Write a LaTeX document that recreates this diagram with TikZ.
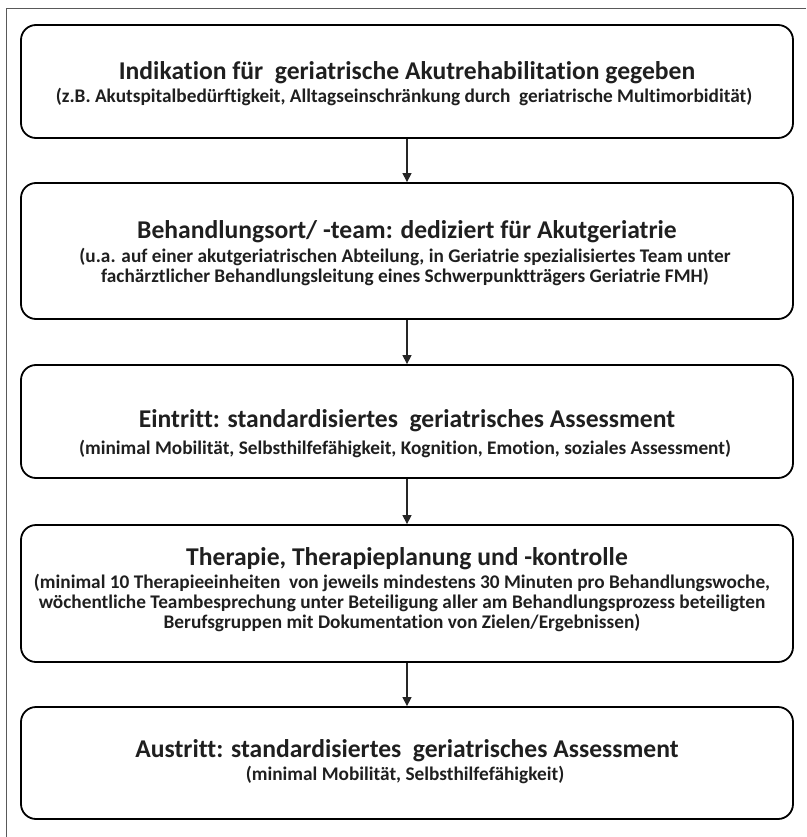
\documentclass[tikz,border=0pt]{standalone}
\usepackage{fontspec}
\setmainfont{Carlito}[Ligatures={NoCommon,NoContextual}]
\usetikzlibrary{arrows.meta}
\newcommand{\sublines}[1]{\begin{tabular}[t]{@{}c@{}}#1\end{tabular}}
\begin{document}
\begin{tikzpicture}[x=1pt,y=-1pt,
  box/.style={draw=black, line width=1.8pt, rounded corners=15pt, minimum width=772pt, inner sep=0pt},
  ttl/.style={anchor=base, font=\fontsize{25.6}{30}\selectfont\bfseries, text=black!88, inner sep=0pt},
  sub/.style={anchor=base, font=\fontsize{19.3}{20}\selectfont\bfseries, text=black!88, inner sep=0pt},
  conn/.style={draw=black!85, line width=1.2pt, -{Triangle[length=9pt,width=9pt]}}]
\useasboundingbox (0,0) rectangle (806,837);
\draw[black!65, line width=1pt] (806,9) -- (6,9) -- (6,837);

\node[box, minimum height=113pt] (b1) at (407,81.5) {};
\node[box, minimum height=136pt] (b2) at (407,251) {};
\node[box, minimum height=113pt] (b3) at (407,421.5) {};
\node[box, minimum height=137pt] (b4) at (407,593.5) {};
\node[box, minimum height=112pt] (b5) at (407,763) {};

\node[ttl] (t1) at (407,80) {Indikation für\ \ geriatrische Akutrehabilitation gegeben};
\node[sub] (s1) at (404,103) {\sublines{(z.B. Akutspitalbedürftigkeit, Alltagseinschränkung durch\ \ geriatrische Multimorbidität)}};

\node[ttl] (t2) at (407,238) {Behandlungsort/ -team: dediziert für Akutgeriatrie};
\node[sub] (s2) at (405,262) {\sublines{(u.a. auf einer akutgeriatrischen Abteilung, in Geriatrie spezialisiertes Team unter\\fachärztlicher Behandlungsleitung eines Schwerpunktträgers Geriatrie FMH)}};

\node[ttl] (t3) at (407,427) {Eintritt: standardisiertes\ \ geriatrisches Assessment};
\node[sub] (s3) at (405,454) {\sublines{(minimal Mobilität, Selbsthilfefähigkeit, Kognition, Emotion, soziales Assessment)}};

\node[ttl] (t4) at (407,565) {Therapie, Therapieplanung und -kontrolle};
\node[sub] (s4) at (402,588) {\sublines{(minimal 10 Therapieeinheiten\ \ von jeweils mindestens 30 Minuten pro Behandlungswoche,\\wöchentliche Teambesprechung unter Beteiligung aller am Behandlungsprozess beteiligten\\Berufsgruppen mit Dokumentation von Zielen/Ergebnissen)}};

\node[ttl] (t5) at (407,757) {Austritt: standardisiertes\ \ geriatrisches Assessment};
\node[sub] (s5) at (405,780) {\sublines{(minimal Mobilität, Selbsthilfefähigkeit)}};

\draw[conn] (b1.south) -- (b2.north);
\draw[conn] (b2.south) -- (b3.north);
\draw[conn] (b3.south) -- (b4.north);
\draw[conn] (b4.south) -- (b5.north);
\end{tikzpicture}
\end{document}
